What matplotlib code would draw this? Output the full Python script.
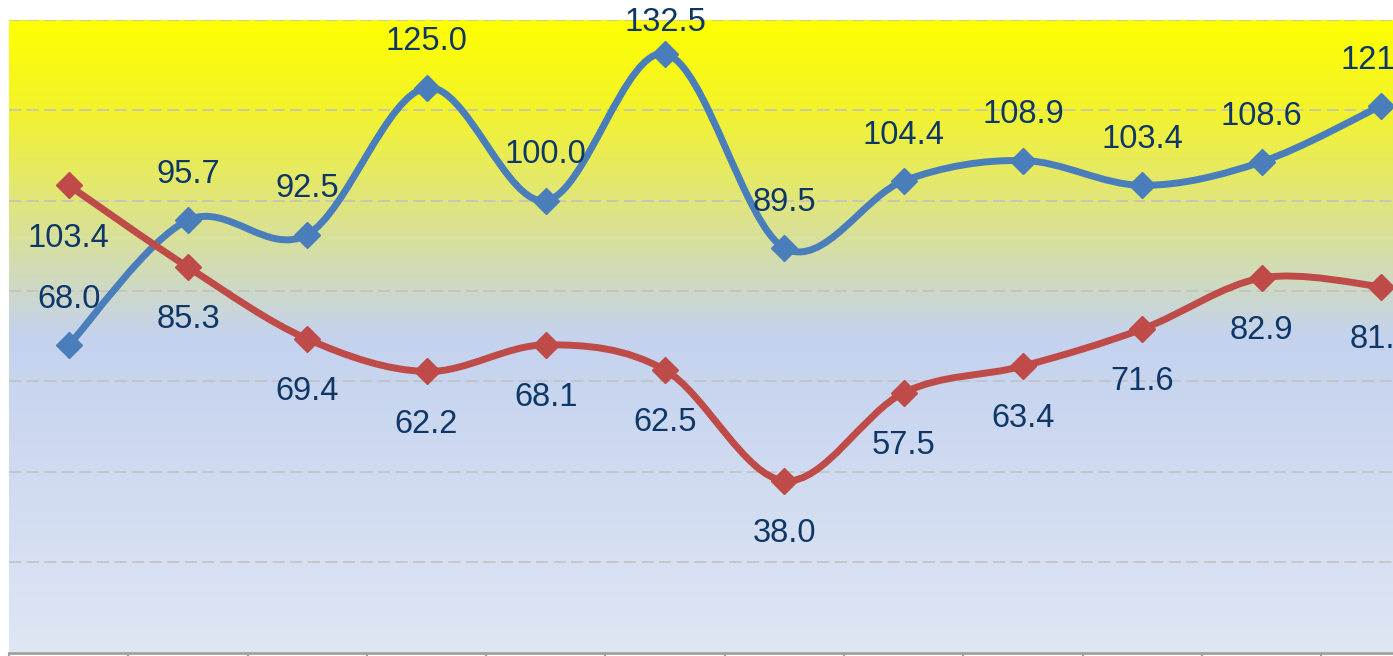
import numpy as np
import matplotlib
matplotlib.use('Agg')
import matplotlib.pyplot as plt
from matplotlib.path import Path
from matplotlib.patches import PathPatch
from matplotlib.colors import LinearSegmentedColormap

plt.rcParams['font.family'] = ['Liberation Sans', 'DejaVu Sans']

# data
categories = np.arange(12)
blue_vals = [68.0, 95.7, 92.5, 125.0, 100.0, 132.5, 89.5, 104.4, 108.9, 103.4, 108.6, 121.0]
red_vals = [103.4, 85.3, 69.4, 62.2, 68.1, 62.5, 38.0, 57.5, 63.4, 71.6, 82.9, 81.0]

blue = '#4A7EBB'
red = '#BE4B48'
label_col = '#0E3767'


def smooth_path(x, y):
    # bezier segments like the office "smoothed line"
    pts = np.column_stack([x, y]).astype(float)
    n = len(pts)
    verts = [pts[0]]
    codes = [Path.MOVETO]
    for i in range(n - 1):
        p0 = pts[i - 1] if i > 0 else pts[i]
        p1 = pts[i]
        p2 = pts[i + 1]
        p3 = pts[i + 2] if i + 2 < n else pts[i + 1]
        c1 = p1 + (p2 - p0) / 6.0
        c2 = p2 - (p3 - p1) / 6.0
        verts += [c1, c2, p2]
        codes += [Path.CURVE4] * 3
    return Path(verts, codes)


fig = plt.figure(figsize=(13.93, 6.56), dpi=100)
ax = fig.add_axes([9 / 1393, 3.5 / 656, 1431.6 / 1393, 632.5 / 656])
ax.set_xlim(-0.5, 11.5)
ax.set_ylim(0, 140)

# background gradient
cmap = LinearSegmentedColormap.from_list('bg', [(0.0, '#FFFF00'), (0.14, '#F3F32C'),
                                                (0.5, '#C4D2EE'), (1.0, '#DFE6F4')])
grad = np.linspace(0, 1, 256).reshape(-1, 1)
ax.imshow(grad, cmap=cmap, aspect='auto', extent=[-0.5, 11.5, 0, 140],
          origin='upper', zorder=0)

ax.set_yticks(np.arange(20, 141, 20))
ax.grid(axis='y', color='#C0C0C0', linewidth=1.1, linestyle=(0, (8, 3.5)), zorder=1)
ax.tick_params(axis='y', left=False, labelleft=False)
ax.set_xticks(np.arange(-0.5, 12, 1))
ax.tick_params(axis='x', direction='out', length=4, width=1.5, color='#A0A0A0',
               labelbottom=False)
for s in ['left', 'right', 'top']:
    ax.spines[s].set_visible(False)
ax.spines['bottom'].set_color('#A0A0A0')
ax.spines['bottom'].set_linewidth(2)

px_per_unit = 632.5 / 140
for vals, col, off in [(blue_vals, blue, 33), (red_vals, red, -38)]:
    ax.add_patch(PathPatch(smooth_path(categories, vals), facecolor='none',
                           edgecolor=col, linewidth=5, capstyle='round',
                           joinstyle='round', zorder=3))
    ax.plot(categories, vals, linestyle='none', marker='D', markersize=13,
            color=col, markeredgecolor=col, zorder=4)
    for xi, v in zip(categories, vals):
        o = off
        if off > 0:
            # keep label inside the chart (top edge)
            room = (19.5 + (140 - v) * px_per_unit - 22) * 0.72
            o = min(off, room)
        ax.annotate('%.1f' % v, (xi, v), xytext=(0, o), textcoords='offset points',
                    ha='center', va='center', fontsize=23.5, color=label_col,
                    zorder=5, annotation_clip=False)

fig.savefig('out.png', dpi=100)
